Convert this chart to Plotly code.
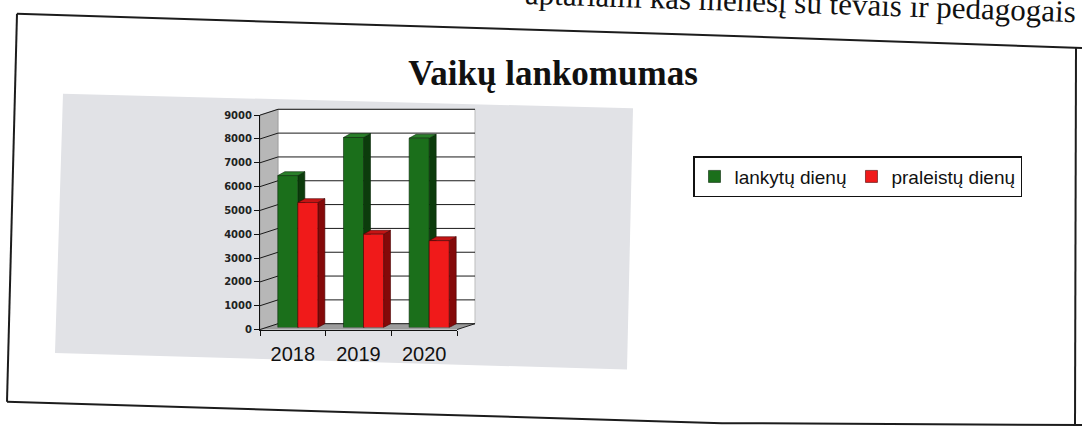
import plotly.graph_objects as go

# ---------------- data ----------------
years = ["2018", "2019", "2020"]
attended = [6380, 7980, 7950]      # lankytų dienų
missed = [5250, 3920, 3650]        # praleistų dienų
series_names = ["lankytų dienų", "praleistų dienų"]
y_ticks = list(range(0, 9001, 1000))
title_text = "Vaikų lankomumas"
top_text = "aptariami kas mėnesį su tėvais ir pedagogais"

# ---------------- geometry helpers ----------------
W, H = 1082, 434
YMAX = 9000


def px(x):
    return x / W


def py(y):
    return 1 - y / H


# pixel boxes of the three depth planes: (left, right), (bottom=0, top=YMAX)
FRONT = dict(x=(260, 457), y=(333, 113))
MID = dict(x=(265, 462), y=(331, 111))
BACK = dict(x=(278, 475), y=(327, 107))

idx = list(range(len(years)))
BW = 0.305                       # bar width in category units
unit_px = (MID["x"][1] - MID["x"][0]) / 3.0
val_px = (MID["y"][0] - MID["y"][1]) / YMAX
DX = 7 / unit_px                 # bar depth (x) in data units
DY = 4 / val_px                  # bar depth (y) in data units

GREEN = dict(front="#1b6f1b", top="#2a7f2a", side="#0c3c0c", edge="#0a2a0a")
RED = dict(front="#f01a1a", top="#c41414", side="#840909", edge="#4a0505")


def poly(pts):
    return "M " + " L ".join(f"{x},{y}" for x, y in pts) + " Z"


shapes = []

# scanned page frame (slightly skewed)
frame_pts = [[(17, 9), (360, 20), (680, 30), (1082, 44)],
             [(17, 9), (7, 407)],
             [(7, 407), (360, 418), (722, 429), (1082, 431)],
             [(1076, 44), (1075, 431)]]
for seg in frame_pts:
    shapes.append(dict(type="path", xref="paper", yref="paper", layer="below",
                       path="M " + " L ".join(f"{px(x)},{py(y)}" for x, y in seg),
                       line=dict(color="#1c1c1c", width=2)))

# grey chart area
shapes.append(dict(type="path", xref="paper", yref="paper", layer="below",
                   path=poly([(px(63), py(91)), (px(633), py(106)),
                              (px(627), py(374)), (px(55), py(357))]),
                   fillcolor="#e1e2e6", line=dict(width=0)))


def y_front(v):
    return FRONT["y"][0] - (FRONT["y"][0] - FRONT["y"][1]) * v / YMAX


def y_back(v):
    return BACK["y"][0] - (BACK["y"][0] - BACK["y"][1]) * v / YMAX


# back wall (white), in paper space so it sits under everything else
shapes.append(dict(type="rect", xref="paper", yref="paper", layer="below",
                   x0=px(BACK["x"][0]), x1=px(BACK["x"][1]),
                   y0=py(y_back(0)), y1=py(y_back(YMAX)),
                   fillcolor="white", line=dict(color="#bdbdbd", width=1)))
# left wall
shapes.append(dict(type="path", xref="paper", yref="paper", layer="below",
                   path=poly([(px(FRONT["x"][0]), py(y_front(0))),
                              (px(FRONT["x"][0]), py(y_front(YMAX))),
                              (px(BACK["x"][0]), py(y_back(YMAX))),
                              (px(BACK["x"][0]), py(y_back(0)))]),
                   fillcolor="#b7b7b7", line=dict(color="#8a8a8a", width=0.5)))
# floor
shapes.append(dict(type="path", xref="paper", yref="paper", layer="below",
                   path=poly([(px(FRONT["x"][0]), py(y_front(0))),
                              (px(FRONT["x"][1]), py(y_front(0))),
                              (px(BACK["x"][1]), py(y_back(0))),
                              (px(BACK["x"][0]), py(y_back(0)))]),
                   fillcolor="#9c9c9c", line=dict(width=0)))
# floor right edge
shapes.append(dict(type="line", xref="paper", yref="paper", layer="below",
                   x0=px(FRONT["x"][1]), y0=py(y_front(0)),
                   x1=px(BACK["x"][1]), y1=py(y_back(0)),
                   line=dict(color="#222", width=1)))
# grid lines across the left wall and the back wall
for v in y_ticks:
    shapes.append(dict(type="path", xref="paper", yref="paper", layer="below",
                       path="M " + " L ".join(f"{px(x)},{py(y)}" for x, y in
                                             [(FRONT["x"][0], y_front(v)),
                                              (BACK["x"][0], y_back(v)),
                                              (BACK["x"][1], y_back(v))]),
                       line=dict(color="#1a1a1a", width=1)))

# 3-D faces of the bars (drawn under the front faces)
for vals, off, col in ((attended, -BW, GREEN), (missed, 0.0, RED)):
    for i, v in zip(idx, vals):
        xl = i + off
        xr = xl + BW
        shapes.append(dict(type="path", xref="x", yref="y", layer="below",
                           path=poly([(xr, 0), (xr, v), (xr + DX, v + DY), (xr + DX, DY)]),
                           fillcolor=col["side"], line=dict(color=col["edge"], width=0.6)))
        shapes.append(dict(type="path", xref="x", yref="y", layer="below",
                           path=poly([(xl, v), (xr, v), (xr + DX, v + DY), (xl + DX, v + DY)]),
                           fillcolor=col["top"], line=dict(color=col["edge"], width=0.6)))

fig = go.Figure()
fig.add_trace(go.Bar(x=idx, y=attended, name=series_names[0], xaxis="x", yaxis="y",
                     offset=-BW, width=BW,
                     marker=dict(color=GREEN["front"], line=dict(color=GREEN["edge"], width=0.6))))
fig.add_trace(go.Bar(x=idx, y=missed, name=series_names[1], xaxis="x", yaxis="y",
                     offset=0.0, width=BW,
                     marker=dict(color=RED["front"], line=dict(color=RED["edge"], width=0.6))))
# front plane axes (labels, ticks, front edges)
fig.add_trace(go.Scatter(x=idx, y=[None] * len(idx), xaxis="x2", yaxis="y2",
                         mode="markers", showlegend=False, hoverinfo="skip"))

hidden = dict(showgrid=False, zeroline=False, showticklabels=False, ticks="", showline=False)

fig.update_layout(
    width=W, height=H,
    margin=dict(l=0, r=0, t=0, b=0),
    paper_bgcolor="white",
    plot_bgcolor="rgba(0,0,0,0)",
    barmode="overlay",
    shapes=shapes,
    title=dict(text=title_text, x=553 / W, xanchor="center", y=1 - 73 / H, yanchor="middle",
               font=dict(family="Liberation Serif", size=35, color="#111", weight="bold")),
    # bar plane (mid depth)
    xaxis=dict(domain=[px(MID["x"][0]), px(MID["x"][1])], range=[-0.5, 2.5],
               anchor="y", **hidden),
    yaxis=dict(domain=[py(MID["y"][0]), py(MID["y"][1])], range=[0, YMAX],
               anchor="x", **hidden),
    # front plane with labels
    xaxis2=dict(domain=[px(FRONT["x"][0]), px(FRONT["x"][1])], range=[-0.5, 2.5],
                anchor="y2", showgrid=False, zeroline=False, showline=True,
                linecolor="#111", linewidth=1,
                tickvals=idx, ticktext=years, ticks="", ticklen=0,
                ticklabelstandoff=6,
                tickfont=dict(family="Liberation Sans", size=20, color="#111"),
                minor=dict(tickvals=[-0.5, 0.5, 1.5, 2.5], ticks="outside", ticklen=5,
                           tickcolor="#111", showgrid=False)),
    yaxis2=dict(domain=[py(FRONT["y"][0]), py(FRONT["y"][1])], range=[0, YMAX],
                anchor="x2", showgrid=False, zeroline=False, showline=True,
                linecolor="#111", linewidth=1,
                tickvals=y_ticks, ticks="outside", ticklen=5, tickcolor="#111",
                tickfont=dict(family="DejaVu Sans", size=10, color="#222", weight="bold")),
    legend=dict(orientation="h", x=693 / W, xanchor="left", y=1 - 155 / H, yanchor="top",
                bgcolor="white", bordercolor="#111", borderwidth=1.5,
                font=dict(family="Liberation Sans", size=19, color="#111"),
                traceorder="normal"),
    annotations=[dict(text=top_text, xref="paper", yref="paper",
                      x=800 / W, y=1 + 3 / H, xanchor="center", yanchor="middle",
                      showarrow=False, textangle=1.9,
                      font=dict(family="Liberation Serif", size=31, color="#111"))],
    showlegend=True,
)

fig.write_html("out.html",
               config={"displayModeBar": False},
               post_script="document.body.style.margin='0px';"
                           "document.body.style.overflow='hidden';")
